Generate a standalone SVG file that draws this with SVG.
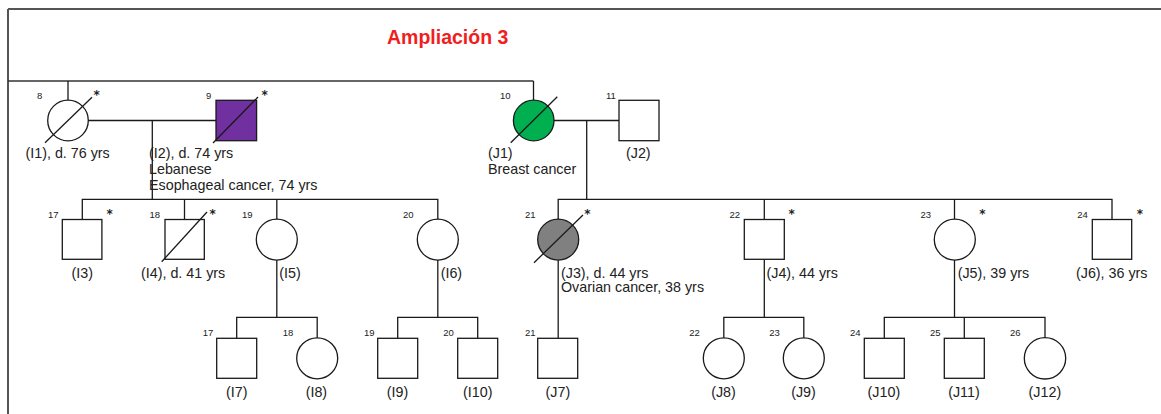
<svg xmlns="http://www.w3.org/2000/svg" width="1161" height="414" viewBox="0 0 1161 414">
<style>
.ln{stroke:#1a1a1a;stroke-width:1.3;fill:none}
.sh{stroke:#1a1a1a;stroke-width:1.3;fill:#fff}
.sl{stroke:#1a1a1a;stroke-width:1.3}
.lb{font-family:"Liberation Sans",Arial,sans-serif;font-size:14.3px;fill:#222}
.nm{font-family:"Liberation Sans",Arial,sans-serif;font-size:9.5px;fill:#222}
.ast{font-family:"DejaVu Sans",sans-serif;font-size:12px;font-weight:bold;fill:#222;text-anchor:middle}
</style>
<rect width="1161" height="414" fill="#fff"/>
<g id="frame">
<line x1="8" y1="9" x2="1161" y2="9" stroke="#555" stroke-width="2"/>
<line x1="8" y1="9" x2="8" y2="414" stroke="#555" stroke-width="2"/>
<line x1="8" y1="81" x2="533.5" y2="81" stroke="#333" stroke-width="1.3"/>
</g>
<text id="title" x="387" y="43.5" font-family="Liberation Sans,Arial,sans-serif" font-size="19.5" font-weight="bold" fill="#f01e1e">Ampliación 3</text>
<g id="connectors" class="ln">
<path d="M68 81V100"/>
<path d="M533.5 81V100"/>
<path d="M88 120.5H216"/>
<path d="M152.3 120.5V199.3"/>
<path d="M554 120.5H619"/>
<path d="M586.7 120.5V199.3"/>
<path d="M82.3 219.5V199.3H437.8V219.5"/>
<path d="M184.5 199.3V219.5"/>
<path d="M276.8 199.3V219.5"/>
<path d="M558.2 219.5V199.3H1112V219.5"/>
<path d="M764.3 199.3V219.5"/>
<path d="M954.5 199.3V219.5"/>
<path d="M276.8 259.7V317.3"/>
<path d="M236.7 338.3V317.3H317.2V338.3"/>
<path d="M437.8 259.7V317.3"/>
<path d="M397.7 338.3V317.3H477.7V338.3"/>
<path d="M558.2 259.7V338.3"/>
<path d="M764.3 259.5V317.3"/>
<path d="M723.8 338.3V317.3H803.8V338.3"/>
<path d="M954.5 259.7V317.3"/>
<path d="M884.3 338.3V317.3H1045V338.3"/>
<path d="M964.3 317.3V338.3"/>
</g>
<g id="I1">
<circle class="sh" cx="68" cy="120.5" r="20.3"/>
<line class="sl" x1="45" y1="142.7" x2="92" y2="97.3"/>
<text class="nm" x="37" y="99">8</text>
<text class="ast" x="96.7" y="98.5">*</text>
<text class="lb" x="25.5" y="158">(I1), d. 76 yrs</text>
</g>
<g id="I2">
<rect x="216" y="100.3" width="40.6" height="40.4" fill="#7030a0" stroke="#1a1a1a" stroke-width="1.3"/>
<line class="sl" x1="213" y1="143" x2="258" y2="97"/>
<text class="nm" x="206" y="99">9</text>
<text class="ast" x="264.7" y="98.5">*</text>
<text class="lb" x="149" y="158">(I2), d. 74 yrs</text>
<text class="lb" x="149" y="174">Lebanese</text>
<text class="lb" x="149" y="189.5">Esophageal cancer, 74 yrs</text>
</g>
<g id="J1">
<circle cx="533.7" cy="120.5" r="20.3" fill="#00b050" stroke="#1a1a1a" stroke-width="1.3"/>
<line class="sl" x1="510.7" y1="142.7" x2="557.3" y2="96.7"/>
<text class="nm" x="500" y="99">10</text>
<text class="lb" x="488" y="158">(J1)</text>
<text class="lb" x="488" y="174">Breast cancer</text>
</g>
<g id="J2">
<rect class="sh" x="619" y="100.3" width="40" height="40.4"/>
<text class="nm" x="606" y="99">11</text>
<text class="lb" x="626" y="158">(J2)</text>
</g>
<g id="I3">
<rect class="sh" x="62.3" y="219.5" width="39.6" height="39.8"/>
<text class="nm" x="48" y="217.5">17</text>
<text class="ast" x="109.7" y="217.5">*</text>
<text class="lb" x="82.3" y="277.5" text-anchor="middle">(I3)</text>
</g>
<g id="I4">
<rect class="sh" x="165" y="219.5" width="39.3" height="39.8"/>
<line class="sl" x1="161.7" y1="261.7" x2="207" y2="212"/>
<text class="nm" x="149.5" y="217.5">18</text>
<text class="ast" x="212.7" y="217.5">*</text>
<text class="lb" x="141" y="277.5">(I4), d. 41 yrs</text>
</g>
<g id="I5">
<circle class="sh" cx="276.8" cy="239.6" r="20.5"/>
<text class="nm" x="242" y="217.5">19</text>
<text class="lb" x="279.3" y="277.5">(I5)</text>
</g>
<g id="I6">
<circle class="sh" cx="437.8" cy="239.6" r="20.5"/>
<text class="nm" x="403" y="217.5">20</text>
<text class="lb" x="440.7" y="277.5">(I6)</text>
</g>
<g id="J3">
<circle cx="558.2" cy="239.6" r="20.5" fill="#808080" stroke="#1a1a1a" stroke-width="1.3"/>
<line class="sl" x1="534" y1="262.7" x2="583" y2="215"/>
<text class="nm" x="525" y="217.5">21</text>
<text class="ast" x="587.3" y="217.5">*</text>
<text class="lb" x="561" y="277.5">(J3), d. 44 yrs</text>
<text class="lb" x="561" y="292">Ovarian cancer, 38 yrs</text>
</g>
<g id="J4">
<rect class="sh" x="744.3" y="219.5" width="40" height="39.8"/>
<text class="nm" x="729.5" y="217.5">22</text>
<text class="ast" x="791.7" y="217.5">*</text>
<text class="lb" x="766.5" y="277.5">(J4), 44 yrs</text>
</g>
<g id="J5">
<circle class="sh" cx="954.8" cy="239.6" r="20.5"/>
<text class="nm" x="920.5" y="217.5">23</text>
<text class="ast" x="982.3" y="217.5">*</text>
<text class="lb" x="957.7" y="277.5">(J5), 39 yrs</text>
</g>
<g id="J6">
<rect class="sh" x="1092.3" y="219.5" width="39.4" height="39.8"/>
<text class="nm" x="1077.3" y="217.5">24</text>
<text class="ast" x="1140" y="217.5">*</text>
<text class="lb" x="1076" y="277.5">(J6), 36 yrs</text>
</g>
<g id="I7">
<rect class="sh" x="216.7" y="338.3" width="40" height="40"/>
<text class="nm" x="202.7" y="336">17</text>
<text class="lb" x="236.7" y="396.7" text-anchor="middle">(I7)</text>
</g>
<g id="I8">
<circle class="sh" cx="317.2" cy="358.3" r="20.5"/>
<text class="nm" x="282.7" y="336">18</text>
<text class="lb" x="316.4" y="396.7" text-anchor="middle">(I8)</text>
</g>
<g id="I9">
<rect class="sh" x="377.7" y="338.3" width="40" height="40"/>
<text class="nm" x="364" y="336">19</text>
<text class="lb" x="397.5" y="396.7" text-anchor="middle">(I9)</text>
</g>
<g id="I10">
<rect class="sh" x="457.7" y="338.3" width="40" height="40"/>
<text class="nm" x="443.3" y="336">20</text>
<text class="lb" x="477.8" y="396.7" text-anchor="middle">(I10)</text>
</g>
<g id="J7">
<rect class="sh" x="537.7" y="338.3" width="40" height="40"/>
<text class="nm" x="525" y="336">21</text>
<text class="lb" x="557.9" y="396.7" text-anchor="middle">(J7)</text>
</g>
<g id="J8">
<circle class="sh" cx="723.8" cy="358.3" r="20.5"/>
<text class="nm" x="689.3" y="336">22</text>
<text class="lb" x="723.5" y="396.7" text-anchor="middle">(J8)</text>
</g>
<g id="J9">
<circle class="sh" cx="803.8" cy="358.3" r="20.5"/>
<text class="nm" x="769.3" y="336">23</text>
<text class="lb" x="803.5" y="396.7" text-anchor="middle">(J9)</text>
</g>
<g id="J10">
<rect class="sh" x="864.3" y="338.3" width="40" height="40"/>
<text class="nm" x="850" y="336">24</text>
<text class="lb" x="883.9" y="396.7" text-anchor="middle">(J10)</text>
</g>
<g id="J11">
<rect class="sh" x="944.3" y="338.3" width="40" height="40"/>
<text class="nm" x="930" y="336">25</text>
<text class="lb" x="963.9" y="396.7" text-anchor="middle">(J11)</text>
</g>
<g id="J12">
<circle class="sh" cx="1045" cy="358.3" r="20.7"/>
<text class="nm" x="1010" y="336">26</text>
<text class="lb" x="1044.9" y="396.7" text-anchor="middle">(J12)</text>
</g>
</svg>
